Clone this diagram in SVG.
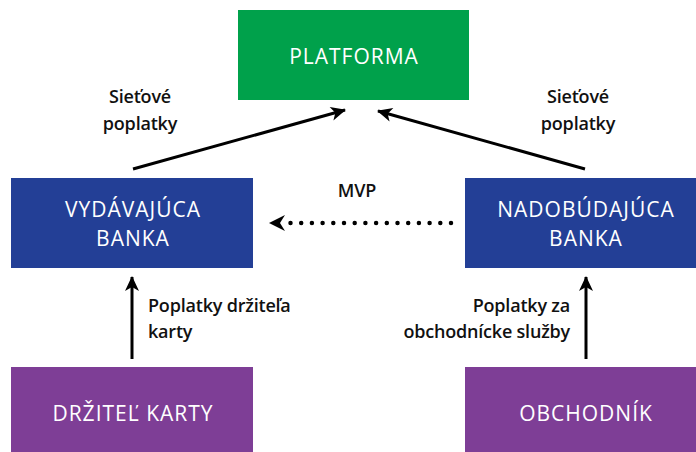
<svg xmlns="http://www.w3.org/2000/svg" width="696" height="452" viewBox="0 0 696 452">
<defs>
<style>
.box-t{font-family:"Open Sans","Noto Sans",sans-serif;font-size:21px;fill:#fff;text-anchor:middle;letter-spacing:1px}
.lbl{font-family:"Open Sans","Noto Sans",sans-serif;font-size:18px;font-weight:600;fill:#111;letter-spacing:-0.2px}
.ln{stroke:#000;stroke-width:3;fill:none}
</style>
<marker id="ah" markerUnits="userSpaceOnUse" markerWidth="20" markerHeight="20" viewBox="-2 -8 20 16" refX="14" refY="0" orient="auto">
<path d="M0,-7 L15,0 L0,7 L4,0 Z" fill="#000"/>
</marker>
</defs>
<rect width="696" height="452" fill="#fff"/>
<g id="platforma">
<rect x="238" y="10" width="231" height="90" fill="#00A14B"/>
<text class="box-t" x="354" y="64">PLATFORMA</text>
</g>
<g id="vydavajuca">
<rect x="11" y="178" width="242" height="90" fill="#233F96"/>
<text class="box-t" x="133" y="217">VYDÁVAJÚCA</text>
<text class="box-t" x="133" y="246">BANKA</text>
</g>
<g id="nadobudajuca">
<rect x="465" y="178" width="231" height="90" fill="#233F96"/>
<text class="box-t" x="586" y="217">NADOBÚDAJÚCA</text>
<text class="box-t" x="586" y="246">BANKA</text>
</g>
<g id="drzitel">
<rect x="11" y="367" width="242" height="85" fill="#7E3E96"/>
<text class="box-t" x="133" y="421">DRŽITEĽ KARTY</text>
</g>
<g id="obchodnik">
<rect x="465" y="367" width="231" height="85" fill="#7E3E96"/>
<text class="box-t" x="586" y="421">OBCHODNÍK</text>
</g>
<g id="connectors">
<line class="ln" x1="133" y1="169" x2="345" y2="110" marker-end="url(#ah)"/>
<line class="ln" x1="585" y1="169" x2="378" y2="111" marker-end="url(#ah)"/>
<line class="ln" x1="132" y1="359" x2="132" y2="277" marker-end="url(#ah)"/>
<line class="ln" x1="586" y1="359" x2="586" y2="277" marker-end="url(#ah)"/>
<line x1="451" y1="223" x2="290" y2="223" stroke="#000" stroke-width="4.5" stroke-linecap="round" stroke-dasharray="0 10.7"/>
<path d="M269,223 L285,215 L280,223 L285,231 Z" fill="#000"/>
</g>
<g id="labels">
<text class="lbl" x="140" y="103" text-anchor="middle">Sieťové</text>
<text class="lbl" x="140" y="130" text-anchor="middle">poplatky</text>
<text class="lbl" x="578" y="103" text-anchor="middle">Sieťové</text>
<text class="lbl" x="578" y="130" text-anchor="middle">poplatky</text>
<text class="lbl" x="357" y="197" text-anchor="middle">MVP</text>
<text class="lbl" x="148" y="312">Poplatky držiteľa</text>
<text class="lbl" x="148" y="338">karty</text>
<text class="lbl" x="570" y="312" text-anchor="end">Poplatky za</text>
<text class="lbl" x="570" y="338" text-anchor="end">obchodnícke služby</text>
</g>
</svg>
